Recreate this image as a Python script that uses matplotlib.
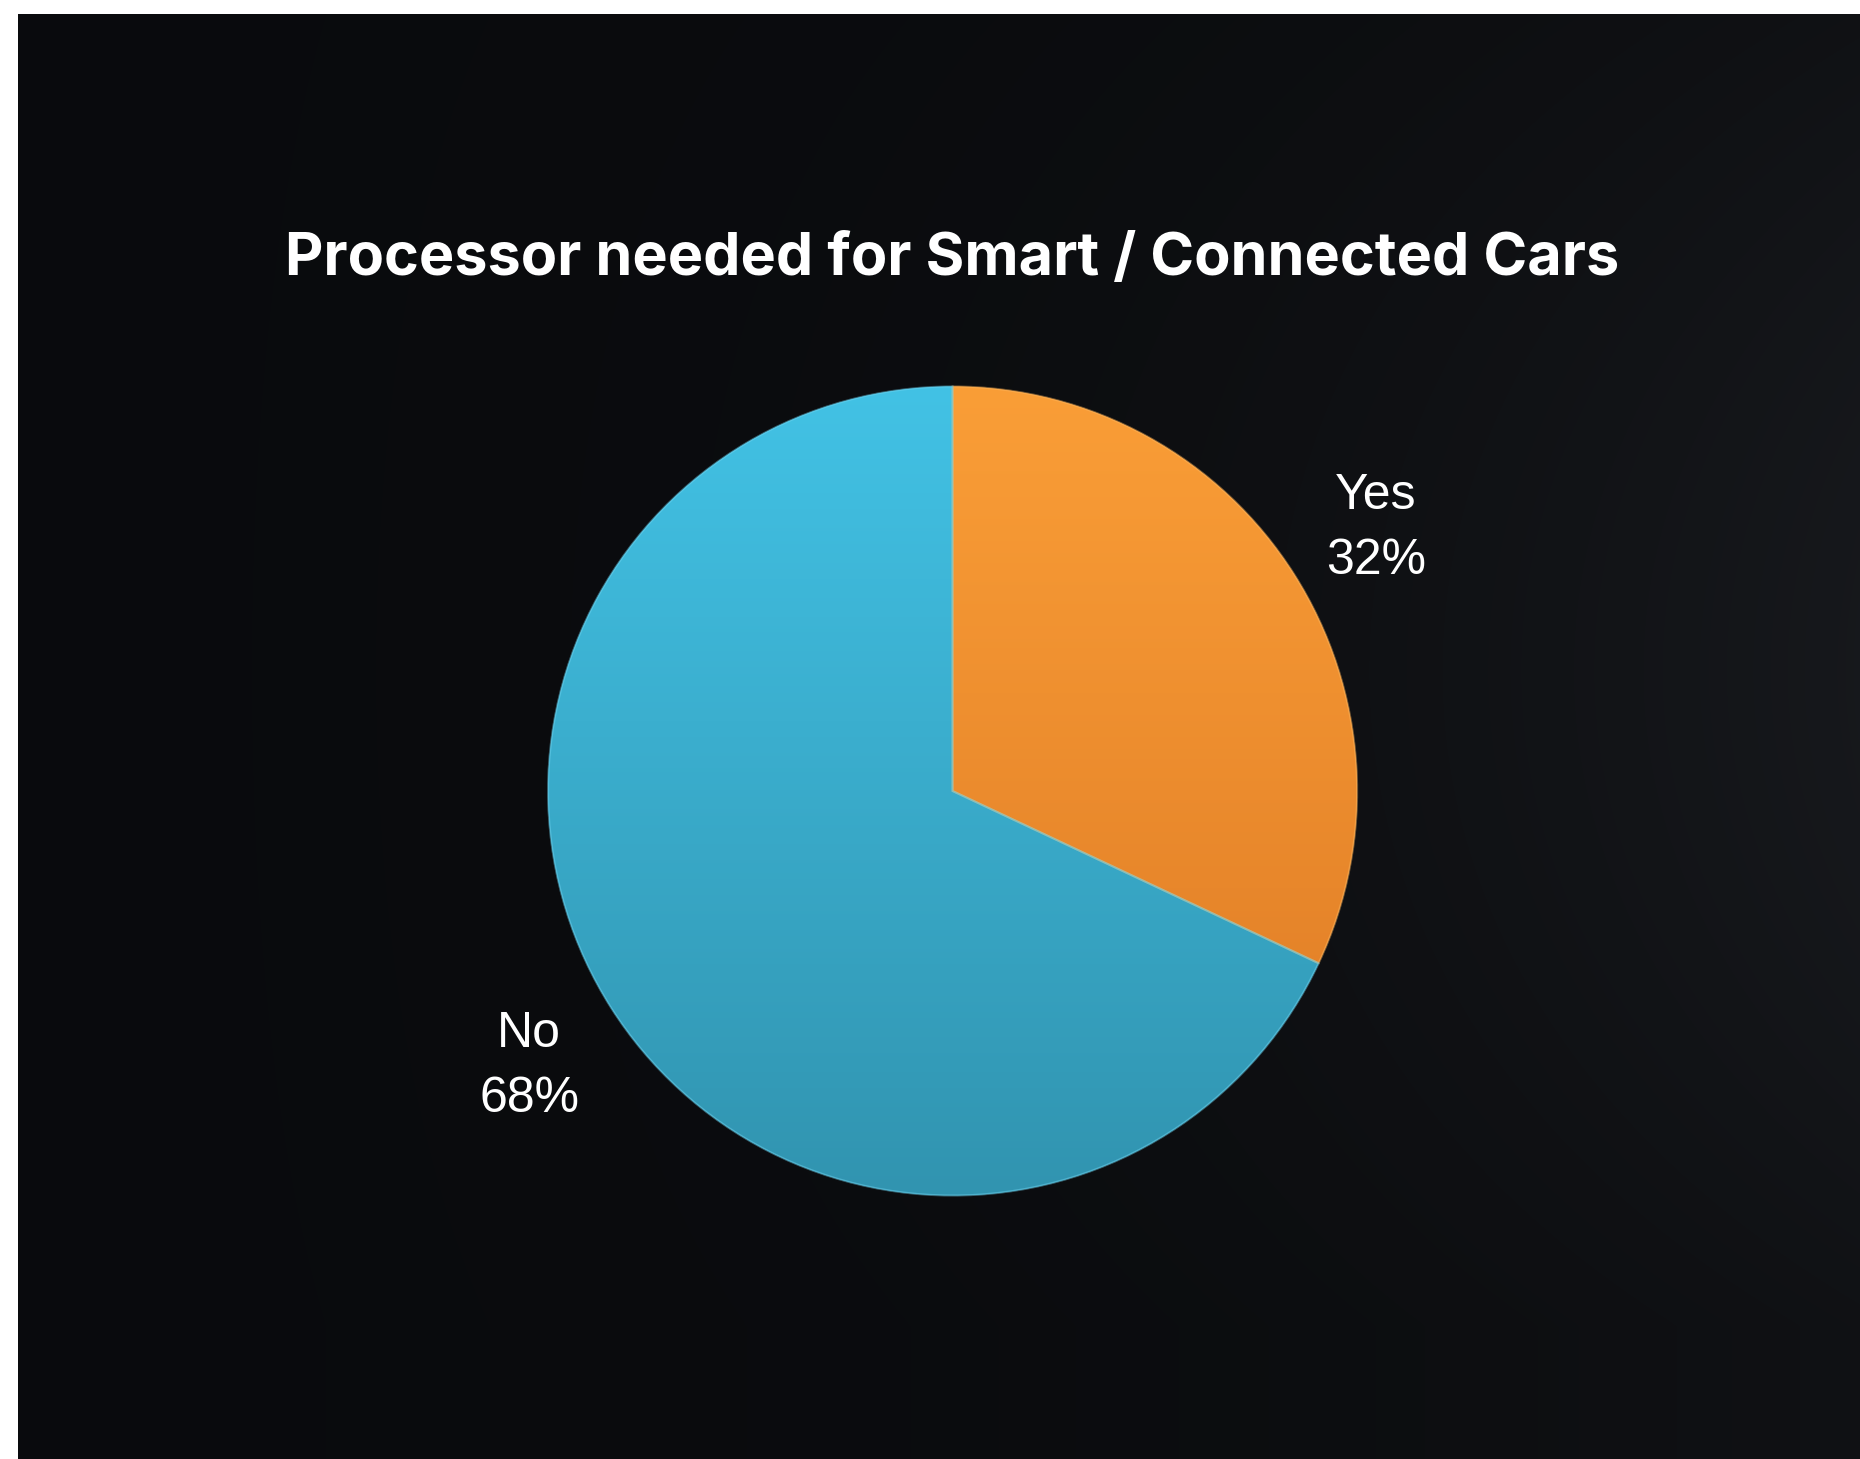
import numpy as np
import matplotlib
matplotlib.use("Agg")
from matplotlib import pyplot as plt
from matplotlib.colors import LinearSegmentedColormap
from matplotlib.patches import PathPatch
from matplotlib.transforms import offset_copy

title = "Processor needed for Smart / Connected Cars"
categories = ["Yes", "No"]
shares = [32, 68]
top_colors = ["#FA9E37", "#42C2E5"]
bottom_colors = ["#DD7924", "#3194B0"]
edge_colors = ["#FFB860", "#70D6F2"]

W, H = 1860, 1459
fig = plt.figure(figsize=(W / 100, H / 100), dpi=100, facecolor="white")

# dark slide background, a little lighter towards the right
bg = fig.add_axes([18 / W, 0, 1 - 18 / W, 1 - 14 / H])
bg.axis("off")
gx = np.linspace(0, 1, 400)[None, :]
gy = np.linspace(0, 1, 300)[:, None]
shade = 0.02 + 0.09 * gx ** 2.5 * (0.5 + 0.5 * np.sin(np.pi * np.clip(gy * 1.1, 0, 1)))
bg_cmap = LinearSegmentedColormap.from_list("bg", ["#07080a", "#2a2d33"])
bg.imshow(shade, cmap=bg_cmap, vmin=0, vmax=0.25, aspect="auto",
          extent=[0, 1, 0, 1], origin="upper", interpolation="bilinear")
bg.set_xlim(0, 1)
bg.set_ylim(0, 1)

# pie axes: centre (952, 791 from top), radius ~404 px
r_px = 404.5
cx, cy = 952.6, H - 791
half = 1.5 * r_px
ax = fig.add_axes([(cx - half) / W, (cy - half) / H, 2 * half / W, 2 * half / H])
ax.patch.set_alpha(0)

labels = [f"{c}\n{v}%" for c, v in zip(categories, shares)]
wedges, texts = ax.pie(
    shares, labels=labels, colors=top_colors, startangle=90, counterclock=False,
    labeldistance=1.24, radius=1.0,
    wedgeprops=dict(linewidth=0),
    textprops=dict(color="white", fontsize=36, family="Liberation Sans",
                   linespacing=1.54),
)
for t in texts:
    t.set_ha("center")
    t.set_va("center")
    t.set_transform(offset_copy(t.get_transform(), fig=fig, y=-6.5, units="dots"))

# vertical gradient fill inside each wedge
grad = np.linspace(0, 1, 256)[:, None]
for w, c_top, c_bot in zip(wedges, top_colors, bottom_colors):
    cmap = LinearSegmentedColormap.from_list("g", [c_top, c_bot])
    im = ax.imshow(grad, cmap=cmap, extent=[-1, 1, -1, 1], origin="upper",
                   aspect="auto", zorder=2)
    im.set_clip_path(w)
    w.set_zorder(1)

# light bevel edges
for w, ec in zip(wedges, edge_colors):
    ax.add_patch(PathPatch(w.get_path(), transform=w.get_transform(), fill=False,
                           edgecolor=ec, linewidth=1.5, alpha=0.45, zorder=3))

ax.set_xlim(-1.5, 1.5)
ax.set_ylim(-1.5, 1.5)
ax.set_aspect("equal")
ax.axis("off")

fig.text(cx / W, 1 - 259 / H, title, color="white", fontsize=42.7,
         fontweight="bold", family="Inter", ha="center", va="center")

fig.savefig("out.png", dpi=100, facecolor=fig.get_facecolor())
plt.close(fig)
